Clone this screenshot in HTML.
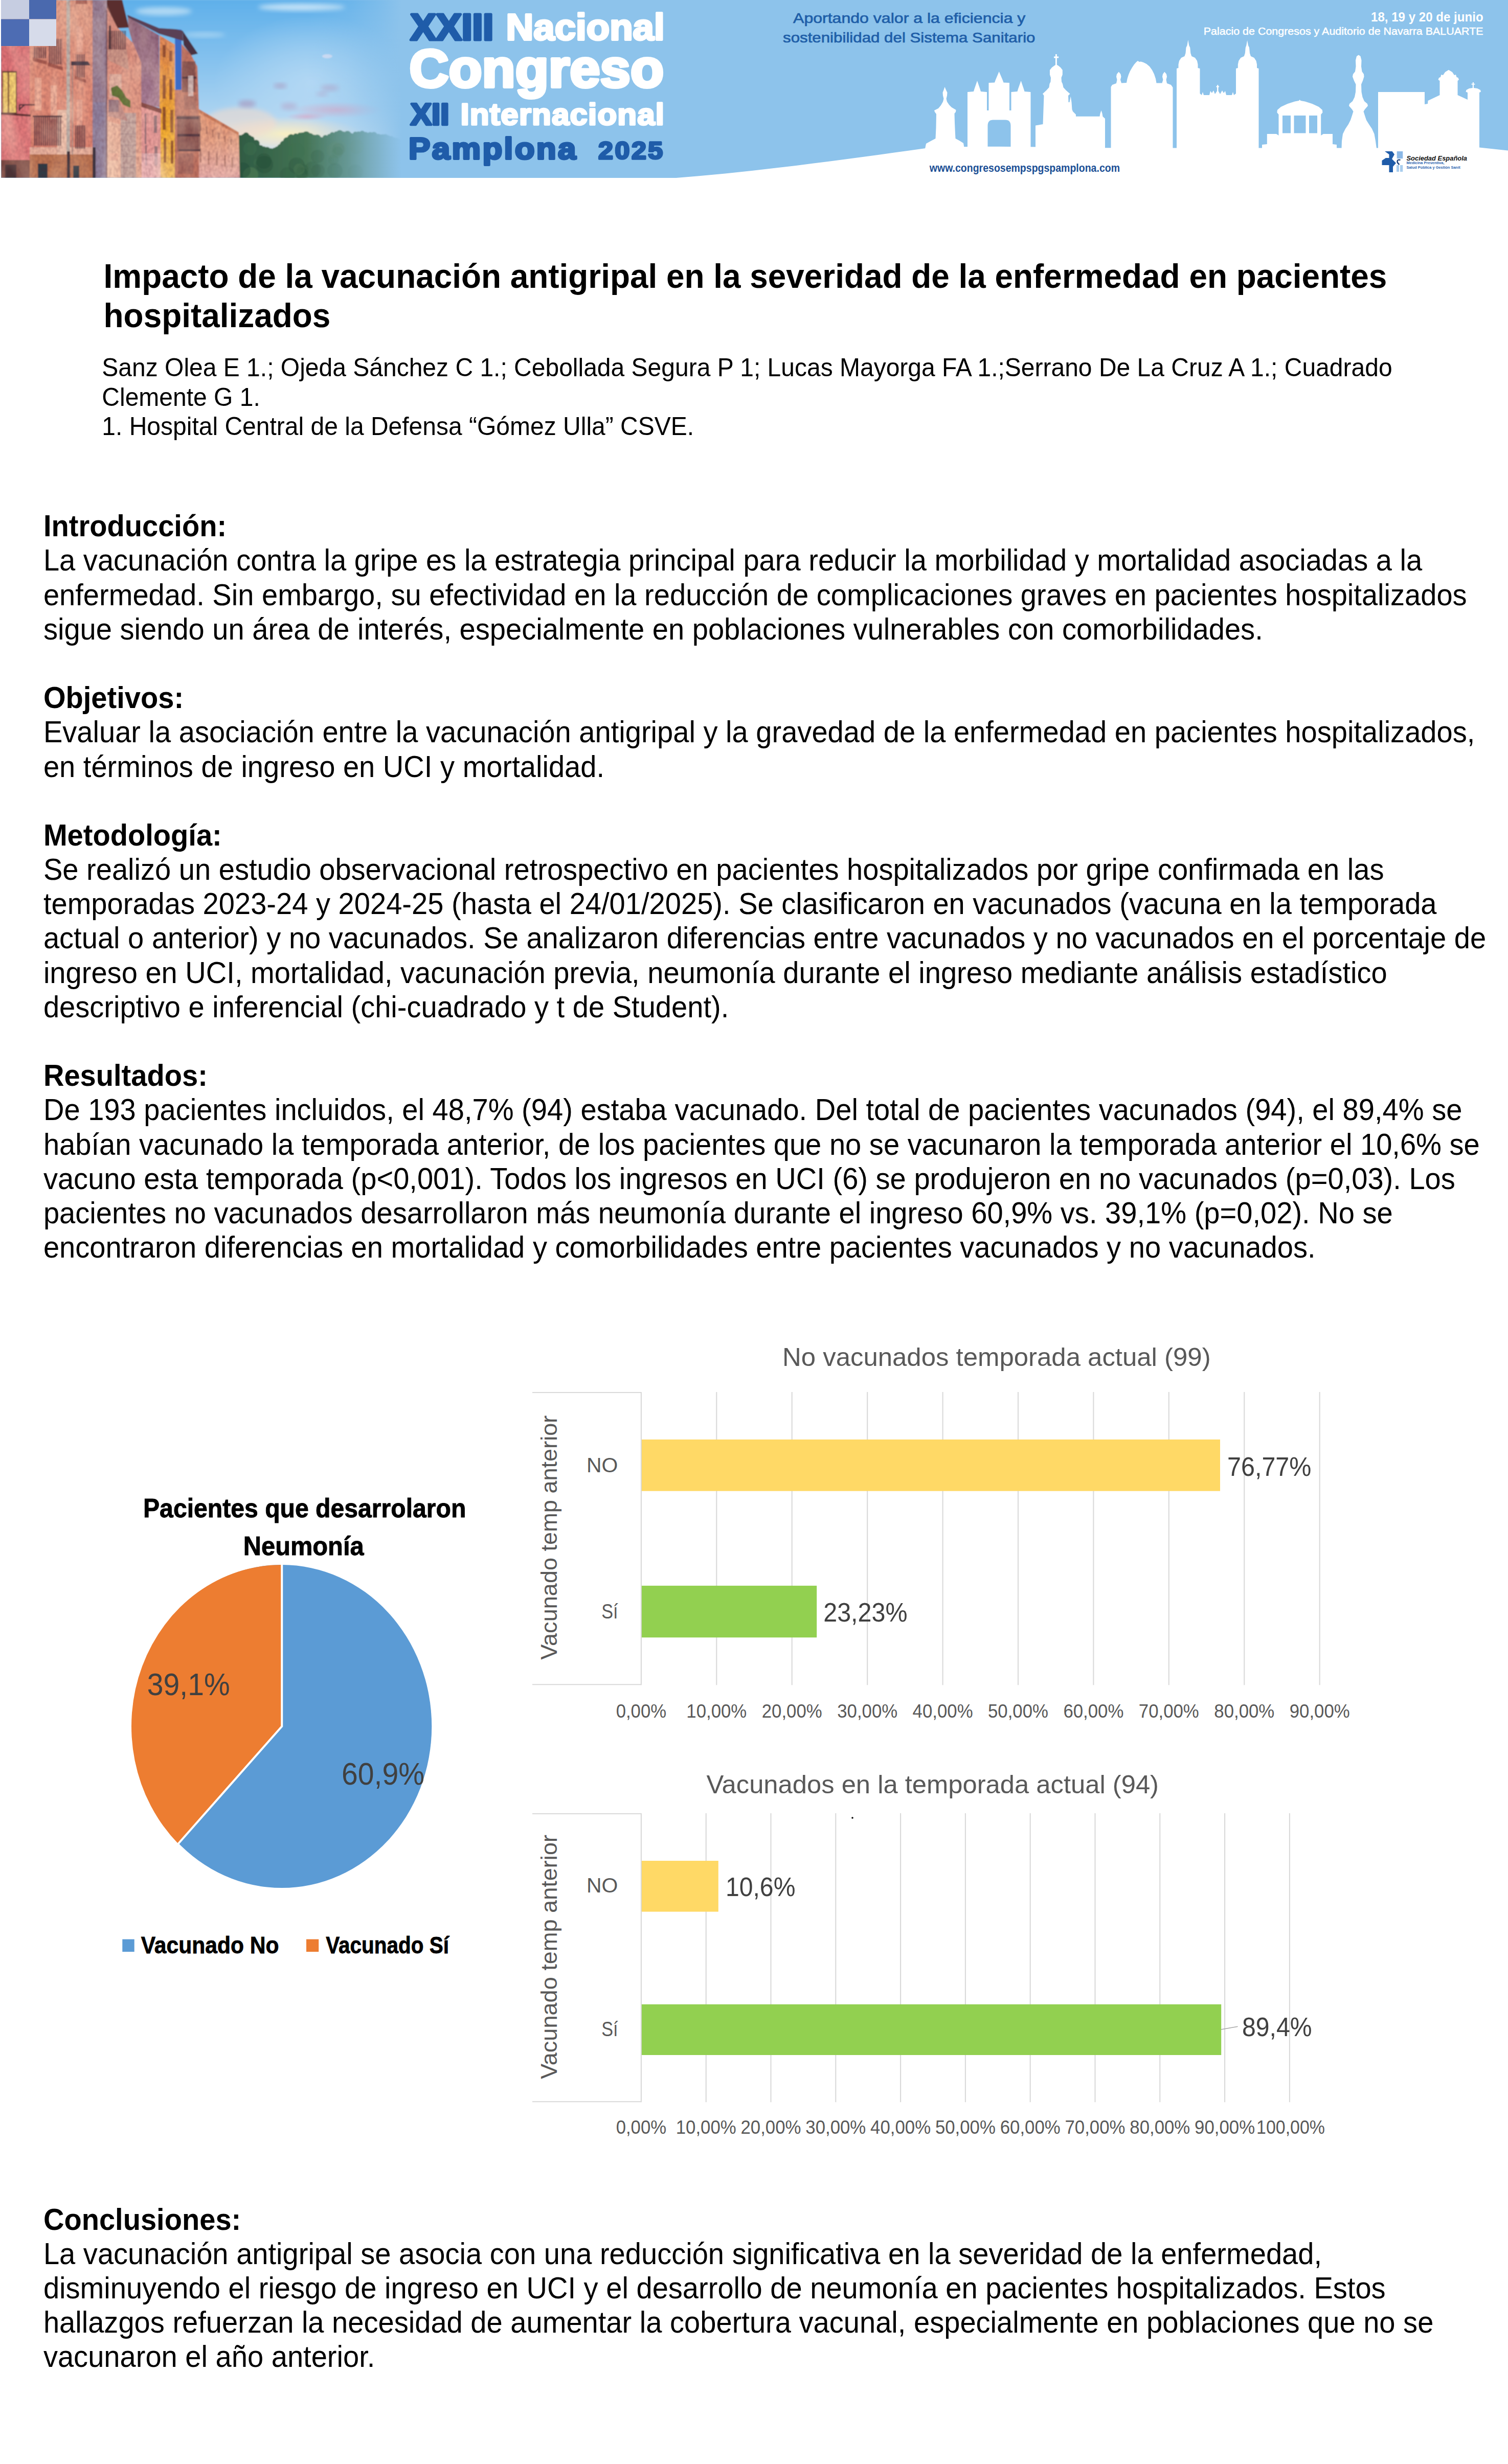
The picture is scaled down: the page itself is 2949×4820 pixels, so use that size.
<!DOCTYPE html>
<html lang="es">
<head>
<meta charset="utf-8">
<title>Impacto de la vacunación antigripal</title>
<style>
html,body{margin:0;padding:0;background:#fff;}
body{width:2949px;height:4820px;position:relative;overflow:hidden;font-family:"Liberation Sans",sans-serif;color:#000;}
.abs{position:absolute;white-space:nowrap;}
#banner{position:absolute;left:0;top:0;width:2949px;height:400px;}
#title{left:202.6px;top:503px;font-size:63.89px;line-height:76.8px;font-weight:bold;}
#authors{left:199.3px;top:691.3px;font-size:48px;line-height:57.6px;}
.body{left:84.9px;font-size:56.09px;line-height:67.2px;}
.body b{font-weight:bold;}
.lt{height:76.8px;transform:scaleY(1.055);transform-origin:0 60.5px;}
.la{height:57.6px;transform:scaleY(1.05);transform-origin:0 45.4px;}
.lb{height:67.2px;transform:scaleY(1.05);transform-origin:0 53px;}
#charts{position:absolute;left:0;top:2560px;width:2949px;height:1700px;}
svg text{font-family:"Liberation Sans",sans-serif;}
</style>
</head>
<body>
<!--BANNER-->
<svg id="banner" viewBox="0 0 2949 400">
<defs>
<linearGradient id="skyv" x1="0" y1="0" x2="0" y2="1">
<stop offset="0" stop-color="#5fb0ea"/><stop offset="0.35" stop-color="#86c2ee"/><stop offset="0.62" stop-color="#a9d2f1"/><stop offset="0.8" stop-color="#cfe3f2"/><stop offset="1" stop-color="#bcd9ee"/>
</linearGradient>
<linearGradient id="fade" gradientUnits="userSpaceOnUse" x1="600" y1="0" x2="800" y2="0">
<stop offset="0" stop-color="#8dc3eb" stop-opacity="0"/><stop offset="0.4" stop-color="#8dc3eb" stop-opacity="0.25"/><stop offset="0.7" stop-color="#8dc3eb" stop-opacity="0.62"/><stop offset="0.93" stop-color="#8dc3eb" stop-opacity="1"/><stop offset="1" stop-color="#8dc3eb" stop-opacity="1"/>
</linearGradient>
<radialGradient id="glow" cx="0.5" cy="0.5" r="0.5">
<stop offset="0" stop-color="#fbf0c0" stop-opacity="0.95"/><stop offset="0.6" stop-color="#f6e6c8" stop-opacity="0.5"/><stop offset="1" stop-color="#f6e6c8" stop-opacity="0"/>
</radialGradient>
<radialGradient id="pale" cx="0.5" cy="0.5" r="0.5"><stop offset="0" stop-color="#bfdef6" stop-opacity="0.7"/><stop offset="0.5" stop-color="#bfdef6" stop-opacity="0.4"/><stop offset="1" stop-color="#bfdef6" stop-opacity="0"/></radialGradient>
<radialGradient id="pinkc" cx="0.5" cy="0.5" r="0.5">
<stop offset="0" stop-color="#d9a8c6" stop-opacity="0.75"/><stop offset="1" stop-color="#d9a8c6" stop-opacity="0"/>
</radialGradient>
<linearGradient id="b1" x1="0" y1="0" x2="0" y2="1">
<stop offset="0" stop-color="#e39a82"/><stop offset="0.55" stop-color="#e48c76"/><stop offset="1" stop-color="#dd806d"/>
</linearGradient>
<linearGradient id="b3" x1="0" y1="0" x2="0" y2="1">
<stop offset="0" stop-color="#d98a7a"/><stop offset="0.6" stop-color="#e79c86"/><stop offset="1" stop-color="#f1b89e"/>
</linearGradient>
<linearGradient id="b4" x1="0" y1="0" x2="0" y2="1">
<stop offset="0" stop-color="#8c6279"/><stop offset="1" stop-color="#ab8199"/>
</linearGradient>
<linearGradient id="b5" x1="0" y1="0" x2="0" y2="1">
<stop offset="0" stop-color="#e28a5c"/><stop offset="0.3" stop-color="#f09a3a"/><stop offset="0.65" stop-color="#f8b02c"/><stop offset="1" stop-color="#f6c060"/>
</linearGradient>
<linearGradient id="b8" x1="0" y1="0" x2="0" y2="1">
<stop offset="0" stop-color="#e9966f"/><stop offset="0.5" stop-color="#eca789"/><stop offset="1" stop-color="#ebafab"/>
</linearGradient>
<linearGradient id="tree" gradientUnits="userSpaceOnUse" x1="462" y1="0" x2="800" y2="0">
<stop offset="0" stop-color="#2e5a42"/><stop offset="0.4" stop-color="#447455"/><stop offset="0.7" stop-color="#5e8e80"/><stop offset="1" stop-color="#7aa9b4"/>
</linearGradient>
<linearGradient id="treev" x1="0" y1="0" x2="0" y2="1">
<stop offset="0" stop-color="#fff" stop-opacity="0.12"/><stop offset="1" stop-color="#fff" stop-opacity="0.0"/>
</linearGradient>
<filter id="soft" x="-2%" y="-5%" width="104%" height="110%"><feGaussianBlur stdDeviation="1.1"/></filter>
<filter id="soft3" x="-10%" y="-30%" width="120%" height="160%"><feGaussianBlur stdDeviation="4"/></filter>
<pattern id="rail" width="4.2" height="10" patternUnits="userSpaceOnUse"><rect x="0" y="0" width="1.6" height="10" fill="#35242f"/></pattern>
<pattern id="rail2" width="3" height="10" patternUnits="userSpaceOnUse"><rect x="0" y="0" width="1.2" height="10" fill="#35242f"/></pattern>
<filter id="grain" x="0" y="0" width="100%" height="100%" color-interpolation-filters="sRGB"><feTurbulence type="fractalNoise" baseFrequency="0.22 0.14" numOctaves="2" seed="4" result="n"/><feColorMatrix in="n" type="matrix" values="0 0 0 0 0.32  0 0 0 0 0.14  0 0 0 0 0.2  0.4 0.4 0 0 -0.3"/></filter>
<filter id="grainL" x="0" y="0" width="100%" height="100%" color-interpolation-filters="sRGB"><feTurbulence type="fractalNoise" baseFrequency="0.03 0.012" numOctaves="2" seed="11" result="n"/><feColorMatrix in="n" type="matrix" values="0 0 0 0 1  0 0 0 0 0.9  0 0 0 0 0.8  0 0.5 0.5 0 -0.42"/></filter>
<clipPath id="bclip"><rect x="2" y="0" width="207" height="348"/><path d="M209 8 L230 54 L260 84 L276 122 L277 348 L209 348 Z"/><path d="M250 33 L311 69 L312 210 L276 203 L275 121 L259 83 L251 54 Z"/><path d="M276 203 L314 215 L314 348 L276 348 Z"/><path d="M312 69 L342 87 L342 348 L312 348 Z"/><path d="M342 175 L355 175 L355 86 L373 106 L386 130 L389 214 L389 348 L342 348 Z"/><path d="M383 210 L467 259 L469 348 L383 348 Z"/></clipPath>
<clipPath id="photoclip"><rect x="2" y="0" width="1400" height="348"/></clipPath>
</defs>
<rect x="2" y="0" width="2947" height="348" fill="#8dc3eb"/>
<!--PHOTO-->
<g clip-path="url(#photoclip)">
<g filter="url(#soft)">
<rect x="2" y="0" width="800" height="348" fill="url(#skyv)"/>
<!-- wispy clouds top -->
<ellipse cx="590" cy="14" rx="85" ry="7" fill="#d7ecfa" opacity="0.8" filter="url(#soft3)"/>
<ellipse cx="320" cy="22" rx="55" ry="8" fill="#cfe8f8" opacity="0.7" filter="url(#soft3)"/>
<ellipse cx="400" cy="68" rx="40" ry="5" fill="#cfe8f8" opacity="0.5" filter="url(#soft3)"/>
<ellipse cx="610" cy="160" rx="190" ry="130" fill="url(#pale)"/>
<!-- horizon glow & pink clouds -->
<ellipse cx="560" cy="262" rx="150" ry="34" fill="url(#glow)"/>
<ellipse cx="470" cy="240" rx="70" ry="30" fill="#f6dccb" opacity="0.55" filter="url(#soft3)"/>
<ellipse cx="660" cy="215" rx="90" ry="16" fill="url(#pinkc)"/>
<ellipse cx="600" cy="228" rx="40" ry="8" fill="url(#pinkc)"/>
<ellipse cx="548" cy="168" rx="13" ry="5" fill="#a98fb6" opacity="0.55" filter="url(#soft3)"/>
<ellipse cx="483" cy="203" rx="17" ry="7" fill="#a98fb6" opacity="0.6" filter="url(#soft3)"/>
<ellipse cx="645" cy="172" rx="18" ry="6" fill="#b59cc0" opacity="0.55" filter="url(#soft3)"/>
<ellipse cx="630" cy="184" rx="12" ry="4" fill="#b59cc0" opacity="0.5" filter="url(#soft3)"/>
<ellipse cx="565" cy="208" rx="16" ry="7" fill="#b7a0c4" opacity="0.5" filter="url(#soft3)"/>
<ellipse cx="640" cy="110" rx="10" ry="4" fill="#e6e3f4" opacity="0.7"/>
<!-- trees -->
<g fill="url(#tree)">
<path d="M462 274 L470 266 L482 263 L494 270 L505 281 L516 290 L528 294 L540 292 L550 284 L560 272 L572 265 L586 262 L600 261 L614 266 L628 270 L642 265 L656 260 L672 259 L688 262 L704 259 L720 261 L740 264 L760 268 L780 274 L800 280 L800 348 L462 348 Z"/>
<circle cx="462" cy="276.1" r="5.8"/><circle cx="469.6" cy="269.1" r="4.8"/><circle cx="476.1" cy="267.1" r="4.7"/><circle cx="481.2" cy="265.3" r="6.2"/><circle cx="486.6" cy="270.1" r="6.2"/><circle cx="492.1" cy="272.2" r="5.4"/><circle cx="500.9" cy="280.3" r="6.8"/><circle cx="509.8" cy="288.6" r="4.7"/><circle cx="515.9" cy="291.6" r="5.1"/><circle cx="522.2" cy="295.4" r="7.8"/><circle cx="529.5" cy="297.2" r="7.1"/><circle cx="536.7" cy="293.8" r="4.8"/><circle cx="542.5" cy="293.8" r="7.2"/><circle cx="548.8" cy="288.6" r="6.8"/><circle cx="555.0" cy="282.9" r="7.7"/><circle cx="560.9" cy="275.3" r="6.8"/><circle cx="569.4" cy="269.9" r="7.4"/><circle cx="578.4" cy="266.1" r="5.0"/><circle cx="586.4" cy="264.7" r="5.1"/><circle cx="591.5" cy="266.3" r="7.2"/><circle cx="598.8" cy="264.9" r="8.0"/><circle cx="606.6" cy="267.4" r="6.9"/><circle cx="613.4" cy="271.5" r="7.9"/><circle cx="620.3" cy="270.4" r="7.2"/><circle cx="628.1" cy="275.3" r="7.1"/><circle cx="636.4" cy="269.7" r="5.6"/><circle cx="644.1" cy="266.7" r="4.6"/><circle cx="649.8" cy="263.6" r="5.0"/><circle cx="657.9" cy="261.9" r="5.0"/><circle cx="664.4" cy="262.6" r="8.0"/><circle cx="671.2" cy="263.9" r="6.7"/><circle cx="679.5" cy="264.1" r="8.0"/><circle cx="686.1" cy="266.1" r="5.9"/><circle cx="695.0" cy="262.5" r="5.1"/><circle cx="700.9" cy="262.5" r="5.4"/><circle cx="708.3" cy="261.1" r="5.6"/><circle cx="714.9" cy="263.9" r="6.0"/><circle cx="723.8" cy="265.6" r="7.3"/><circle cx="731.2" cy="265.3" r="7.2"/><circle cx="739.8" cy="269.3" r="7.6"/><circle cx="748.0" cy="268.6" r="6.1"/><circle cx="753.4" cy="269.2" r="7.0"/><circle cx="758.7" cy="269.7" r="5.3"/><circle cx="765.1" cy="270.6" r="4.7"/><circle cx="770.7" cy="273.5" r="4.9"/><circle cx="775.8" cy="277.5" r="8.0"/><circle cx="781.4" cy="277.0" r="5.5"/><circle cx="787.8" cy="280.1" r="5.0"/><circle cx="796.8" cy="282.5" r="6.4"/><circle cx="802.1" cy="282.2" r="4.9"/>
</g>
<circle cx="661" cy="295" r="8" fill="#3f7050" opacity="0.16"/><circle cx="504" cy="318" r="8" fill="#3f7050" opacity="0.40"/><circle cx="695" cy="337" r="15" fill="#3f7050" opacity="0.11"/><circle cx="589" cy="339" r="12" fill="#2c5840" opacity="0.27"/><circle cx="592" cy="332" r="11" fill="#2c5840" opacity="0.27"/><circle cx="611" cy="332" r="16" fill="#2c5840" opacity="0.24"/><circle cx="655" cy="334" r="15" fill="#2c5840" opacity="0.17"/><circle cx="516" cy="315" r="15" fill="#244c38" opacity="0.38"/><circle cx="652" cy="313" r="10" fill="#3f7050" opacity="0.18"/><circle cx="573" cy="341" r="18" fill="#3f7050" opacity="0.30"/><circle cx="489" cy="291" r="13" fill="#3f7050" opacity="0.42"/><circle cx="517" cy="322" r="17" fill="#244c38" opacity="0.38"/><circle cx="580" cy="324" r="16" fill="#244c38" opacity="0.28"/><circle cx="662" cy="292" r="12" fill="#2c5840" opacity="0.16"/><circle cx="580" cy="296" r="16" fill="#3f7050" opacity="0.29"/><circle cx="490" cy="342" r="15" fill="#5d8a5c" opacity="0.42"/><circle cx="562" cy="342" r="15" fill="#2c5840" opacity="0.31"/><circle cx="698" cy="287" r="14" fill="#5d8a5c" opacity="0.11"/><circle cx="655" cy="294" r="16" fill="#5d8a5c" opacity="0.17"/><circle cx="621" cy="306" r="13" fill="#2c5840" opacity="0.22"/><circle cx="475" cy="333" r="15" fill="#244c38" opacity="0.44"/><circle cx="591" cy="341" r="12" fill="#2c5840" opacity="0.27"/><circle cx="660" cy="298" r="11" fill="#3f7050" opacity="0.16"/><circle cx="585" cy="331" r="11" fill="#5d8a5c" opacity="0.28"/><circle cx="662" cy="289" r="15" fill="#5d8a5c" opacity="0.16"/><circle cx="622" cy="334" r="13" fill="#2c5840" opacity="0.22"/>
<!-- B8 long low building -->
<path d="M383 210 L467 259 L469 348 L383 348 Z" fill="url(#b8)"/>
<path d="M383 210 L467 259 L467 265 L383 217 Z" fill="#cf7c58"/>
<path d="M392 240v16M404 247v15M416 254v14M428 260v13M440 266v12M452 272v11M392 290v28M408 296v26M424 300v24M440 304v22M454 308v20" stroke="#9a6458" stroke-width="3" opacity="0.65" fill="none"/>
<!-- B7 balcony building -->
<path d="M342 175 L355 175 L355 86 L373 106 L386 130 L389 214 L389 348 L342 348 Z" fill="#c27461"/>
<path d="M357 60 L387 105 L374 108 L359 88 Z" fill="#4a3342"/>
<path d="M356 120h26v60h-26zM346 226h46v70h-46z" fill="#503444" opacity="0.3"/><path d="M356 120h26v60h-26zM346 226h46v70h-46z" fill="url(#rail2)" opacity="0.55"/><path d="M345 228h44v5h-44zM347 262h44v5h-44zM356 150h28v4h-28zM350 292h42v4h-42z" fill="#3e2a36" opacity="0.8"/>
<path d="M360 186h24v28h-24zM348 300h30v40h-30z" fill="#6a4450" opacity="0.3"/>
<rect x="368" y="148" width="10" height="40" fill="#f4e6e0" opacity="0.7"/>
<!-- B6 blue strip -->
<path d="M342 57 L355 58 L355 176 L343 176 Z" fill="#3c6cc6"/>
<!-- B5 yellow -->
<path d="M312 69 L342 87 L342 348 L312 348 Z" fill="url(#b5)"/>
<path d="M318 88h6v24h-6zM331 99h6v21h-6zM318 147h6v46h-6zM331 155h6v40h-6zM318 209h6v45h-6zM333 215h6v44h-6zM320 270h5v48h-5zM334 275h5v45h-5z" fill="#7e3e2a" opacity="0.75"/>
<!-- B4 purple -->
<path d="M250 33 L311 69 L312 210 L276 203 L275 121 L259 83 L251 54 Z" fill="url(#b4)"/>
<path d="M249 29 L311 55 L343 57 L357 60 L358 80 L311 66 L250 34 Z" fill="#5a4054"/>
<!-- lower pink house -->
<path d="M276 203 L314 215 L314 348 L276 348 Z" fill="#eb9e9a"/>
<path d="M276 200 L316 213 L316 222 L276 209 Z" fill="#8a4e48"/>
<path d="M283 222h3v60h-3zM301 226h6v34h-6zM284 284h3v40h-3zM302 286h6v38h-6z" fill="#70606a" opacity="0.7"/>
<rect x="276" y="300" width="38" height="48" fill="#f6cfd0" opacity="0.6"/>
<!-- B3 pink -->
<path d="M209 8 L230 54 L260 84 L276 122 L277 348 L209 348 Z" fill="url(#b3)"/>
<path d="M207 0 L239 0 L252 54 L230 55 L209 14 Z" fill="#5a2e2e"/>
<path d="M236 221 L266 221 L266 348 L236 348 Z" fill="#c9aaa2"/>
<path d="M236 240h30M236 262h30M236 284h30M236 306h30M236 328h30" stroke="#a88c8c" stroke-width="1.5" opacity="0.7"/>
<path d="M211 60h36v38h-36z" fill="#4e3a48" opacity="0.25"/><path d="M211 60h36v38h-36z" fill="url(#rail)" opacity="0.7"/><path d="M213 50h4v46h-4z" fill="#2e2430" opacity="0.8"/>
<path d="M210 97 L248 97 L252 137 L212 118 Z" fill="#cf9888"/>
<path d="M214 145h24v46h-24z" fill="#e9c8b8" opacity="0.6"/>
<path d="M217 172 l12 -5 l10 10 l8 14 l8 6 l0 14 l-14 -6 l-10 -14 l-12 -4z" fill="#5d7432"/>
<path d="M212 195 L232 195 L250 237 L212 227 Z" fill="#c59088"/>
<path d="M212 195h20v24h-20z" fill="#8d7280" opacity="0.8"/>
<path d="M213 300h18v14h-18z" fill="#d05858" opacity="0.6"/>
<path d="M209 236 L236 244 L236 348 L209 348 Z" fill="#f6c6ac" opacity="0.7"/>
<!-- B2 grey strip -->
<rect x="181" y="0" width="28" height="348" fill="#998197"/>
<rect x="181" y="200" width="28" height="148" fill="#8f83a3" opacity="0.8"/>
<rect x="207" y="20" width="3" height="328" fill="#6a4a58" opacity="0.7"/>
<rect x="181" y="288" width="6" height="60" fill="#3a3440"/>
<!-- B1 -->
<rect x="2" y="0" width="179" height="348" fill="url(#b1)"/>
<rect x="2" y="90" width="56" height="222" fill="#e27377"/>
<rect x="2" y="225" width="58" height="88" fill="#e57b7c" />
<rect x="112" y="215" width="22" height="90" fill="#fbd9c2" opacity="0.75"/>
<rect x="58" y="288" width="123" height="14" fill="#f3c4ae" opacity="0.8"/>
<!-- stone base -->
<rect x="58" y="302" width="123" height="46" fill="#bf7652"/>
<rect x="2" y="313" width="56" height="35" fill="#7c4a42"/>
<path d="M74 320h19v28h-19zM143 324h12v24h-12z" fill="#2f3a44"/>
<path d="M10 322h22v26h-22z" fill="#4a3436"/>
<!-- window glow -->
<rect x="4" y="139" width="29" height="84" fill="#6e4838"/>
<rect x="6" y="142" width="25" height="78" fill="#f7d271"/>
<rect x="15" y="142" width="3" height="78" fill="#8c6040"/>
<path d="M2 222 L60 226" stroke="#5a3030" stroke-width="4"/>
<path d="M38 205 h34 M38 205 v12 M38 214 l10 -9" stroke="#4a3038" stroke-width="2.5" fill="none"/>
<!-- window openings -->
<path d="M68 152h13v64h-13zM99 167h12v66h-12z" fill="#f2ae96"/>
<path d="M150 52h12v50h-12zM150 195h11v52h-11z" fill="#efa690"/>
<!-- balconies -->
<path d="M65 92h26v22h-26zM94 76h28v50h-28z" fill="#5e4354" opacity="0.2"/><path d="M65 92h26v22h-26zM94 76h28v50h-28z" fill="url(#rail)" opacity="0.75"/>
<path d="M64 112 l28 8 v7 l-28 -8z M93 122 l30 9 v7 l-30 -9z" fill="#a85c50"/>
<path d="M66 229h54v56h-54z" fill="#563848" opacity="0.22"/><path d="M66 229h54v56h-54z" fill="url(#rail)" opacity="0.8"/><path d="M64 226h58v3h-58z" fill="#35242f" opacity="0.8"/>
<path d="M147 245h21v46h-21z" fill="#5a3c4a" opacity="0.25"/><path d="M147 245h21v46h-21z" fill="url(#rail)" opacity="0.8"/>
<path d="M148 106h18v46h-18z" fill="#6e4c5c" opacity="0.25"/><path d="M148 106h18v46h-18z" fill="url(#rail)" opacity="0.7"/>
<path d="M146 148 l22 8 v6 l-22 -8z" fill="#a85c50"/>
<!-- drain pipe & lamp -->
<rect x="130" y="0" width="7" height="302" fill="#bdb2aa"/>
<rect x="131" y="296" width="6" height="52" fill="#3a3038"/>
<path d="M139 120 L172 120 L177 128 L139 128 Z" fill="#3e3240"/>
<rect x="140" y="128" width="3" height="175" fill="#a89088" opacity="0.7"/>
<path d="M148 0h22v8h-22z" fill="#a85c50"/>
<g clip-path="url(#bclip)"><rect x="2" y="0" width="470" height="348" filter="url(#grain)"/><rect x="2" y="0" width="470" height="348" filter="url(#grainL)"/></g>
</g>
<!-- checker logo -->
<rect x="2" y="0" width="55" height="37.5" fill="#c6cde1"/>
<rect x="57" y="0" width="53" height="37.5" fill="#4a69ae"/>
<rect x="2" y="37.5" width="55" height="52.5" fill="#4d6cb3"/>
<rect x="57" y="37.5" width="53" height="52.5" fill="#d6dbea"/>
<!-- fade to banner colour -->
<rect x="600" y="0" width="210" height="348" fill="url(#fade)"/>
<rect x="808" y="0" width="30" height="348" fill="#8dc3eb"/>
</g>
<!--/PHOTO-->
<!--WAVE-->
<g fill="#fff">
<!-- white wave / ground -->
<path d="M1310 349 C1480 336 1650 312 1810 290 C1900 283 2050 289 2200 289.5 L2700 289.5 L2893 288.5 L2949 294.5 L2949 400 L1310 400 Z"/>
<rect x="0" y="348" width="2949" height="52"/>
<rect x="0" y="0" width="2" height="400"/>
<!-- monument 1 -->
<path d="M1847.5 170 L1850 176 L1852.5 181 L1852 187 L1850.5 193 L1852 199 L1856 205 L1861 210 L1869.5 215 L1869 219 L1866.5 222 L1867 240 L1868 262 L1868.5 271 L1876 275 L1884 280 L1886 291 L1809 291 L1811 281 L1820 276 L1829.5 271 L1830.5 250 L1831 223 L1828 219 L1827 216 L1835 212 L1840 206 L1844 199 L1845.5 193 L1844 187 L1843.5 181 L1845.5 176 Z"/>
<!-- gate -->
<path d="M1892 291 L1892 180 L1904 179 L1905.5 174 L1911 158 L1916.5 174 L1918 179 L1930 180 L1930 216 L1933.5 216 L1933.5 162 L1945 161.5 L1947 156 L1953.7 140 L1960.5 156 L1962.5 161.5 L1974 162 L1974 216 L1977.5 216 L1977.5 180 L1989.5 179 L1991 174 L1996.6 158 L2002 174 L2003.5 179 L2015.5 180 L2015.5 291 L1976.5 291 L1976.5 246 Q1976.5 234.5 1966 234.5 L1942 234.5 Q1931.5 234.5 1931.5 246 L1931.5 291 Z"/>
<!-- church with tower -->
<path d="M2025 291 L2025 245.5 L2039.5 243 L2041.5 187 L2039 183.5 L2046 177 L2051.5 171 L2052.5 164 L2054.5 160 L2055 152 L2053 146 L2053 137 L2057 132 L2062.5 128 L2064 127 L2064 113.5 L2061 113.5 L2061 110.5 L2064 110.5 L2064 106 L2066.8 106 L2066.8 110.5 L2070.2 110.5 L2070.2 113.5 L2066.8 113.5 L2066.8 127 L2069 128 L2074 132 L2077.8 137 L2077.8 146 L2075.5 152 L2076 160 L2078 164 L2079.5 171 L2085 177 L2092.5 183.5 L2089 187 L2089.5 200 L2091.5 200 L2093.8 188.5 L2095.5 200 L2096.5 214 L2098 218 L2104 224 L2104 227.8 L2150.5 227.8 L2151.5 222 L2153.6 216 L2155.5 222 L2156.5 228 L2161 232 L2161 291 Z"/>
<!-- town hall facade -->
<path d="M2172.5 291 L2172.5 170 L2175 166 L2183 163 L2184.5 156 L2183 150 L2184 145 L2187.8 140.5 L2191.5 145 L2192.5 150 L2191 156 L2193 162.5 L2203 162 L2204.5 154 L2207 146 L2210 139 L2214 132 L2218 126 L2222 121.5 L2225 119 L2228 121 L2231 120.5 L2236 122 L2242 125 L2248 130 L2253 137 L2257 145 L2260 154 L2261.5 162.5 L2272.5 162.5 L2274.5 156 L2273 150 L2274 145 L2277.3 140.5 L2281 145 L2282 150 L2280.5 156 L2282 163 L2290 166 L2293.5 171 L2293.5 291 Z"/>
<!-- cathedral twin towers -->
<path d="M2301 291 L2301 134 L2304.5 133 L2304.5 126 L2306 119 L2310 113 L2316.5 110 L2318.5 104 L2319.5 93 L2321.5 89 L2323.4 78 L2325.3 89 L2327.3 93 L2328.3 104 L2330.3 110 L2337 113 L2341 119 L2342.5 126 L2342.5 133 L2346.5 134 L2346.5 183 L2350 186 L2352 180 L2354 186 L2365 186 L2367 178 L2370 182 L2373 177 L2376 184 L2380 178 L2380 170.5 L2378.5 170.5 L2378.5 168.5 L2380 168.5 L2380.5 166 L2382.3 166 L2382.3 168.5 L2384 168.5 L2384 170.5 L2382.5 170.5 L2382.5 178 L2386 184 L2390 177 L2393 182 L2396 178 L2398 186 L2409 186 L2411 180 L2413 186 L2417 183 L2417 134 L2420.8 133 L2420.8 126 L2422.3 119 L2426.3 113 L2432.8 110 L2434.8 104 L2435.8 93 L2437.3 89 L2439.1 78.8 L2441 89 L2443 93 L2444 104 L2446 110 L2452.5 113 L2456.5 119 L2458 126 L2458 133 L2461.5 134 L2461.5 291 Z"/>
<!-- kiosk -->
<path d="M2468 291 L2468 283 L2477.8 282 L2477.8 262 L2496 262 L2500.5 265 L2500.5 224 L2497.3 220 L2498 215 L2505 209 L2518 203 L2532 198.5 L2540 197 L2541.7 195 L2543.5 197 L2552 198.5 L2566 203 L2579 209 L2585.8 215 L2586.5 220 L2583.2 224 L2583.2 265 L2588 262 L2606 262 L2606 282 L2614 283 L2614 291 Z"/>
<!-- monument 2 -->
<path d="M2623.5 291 L2624 276 L2626 262 L2631 252 L2637 243 L2641 235 L2644 226 L2646.5 218 L2644 214 L2638 207 L2639 203 L2645 198 L2649 190 L2651 180 L2651.5 165 L2648 158 L2645 150 L2646 145 L2650 140 L2651.5 130 L2651 118 L2653 110 L2656.8 107.5 L2660.5 110 L2662.5 118 L2662 130 L2663.5 140 L2667 145 L2667.5 150 L2665 158 L2662 165 L2662.5 180 L2664.5 190 L2668 198 L2674 203 L2675 207 L2669 214 L2666.5 218 L2669 226 L2672 235 L2677 243 L2683 252 L2687.5 262 L2690 276 L2692 291 Z"/>
<!-- baluarte box + church -->
<path d="M2695 291 L2695 180 L2786 180 L2786 204 L2792 203 L2792.5 197 L2813.5 187 L2815.5 186 L2815.5 158 L2812.5 156 L2814 152 L2817 151 L2818.5 146 L2822 147 L2826 141 L2832.9 136.8 L2840 141 L2844 147 L2847 146 L2848.5 151 L2851.5 152 L2853 156 L2850.5 158 L2850.5 186 L2870 195 L2870 181 L2866.5 179.5 L2867.5 176 L2873 173 L2879.8 172 L2879.8 165.5 L2877.5 165.5 L2877.5 163.8 L2879.8 163.8 L2879.8 161 L2882 161 L2882 163.8 L2884.3 163.8 L2884.3 165.5 L2882 165.5 L2882 172 L2889 173 L2895 176 L2896 179.5 L2893 181 L2893 291 Z"/>
</g>
<!-- holes (blue) -->
<g fill="#8dc3eb">
<rect x="2508" y="226" width="16" height="34.5"/><rect x="2530.5" y="226" width="23" height="34.5"/><rect x="2560" y="226" width="16" height="34.5"/>
</g>
<!--/WAVE-->
<!--BTEXT-->
<g font-weight="bold" stroke-linejoin="round" stroke-linecap="round" lengthAdjust="spacingAndGlyphs">
<text x="802.6" y="77.6" font-size="72" fill="#1f5ca9" stroke="#1f5ca9" stroke-width="5" textLength="162.6" lengthAdjust="spacingAndGlyphs">XXIII</text>
<text x="989.6" y="77.6" font-size="72" fill="#fff" stroke="#fff" stroke-width="4" textLength="310" lengthAdjust="spacingAndGlyphs">Nacional</text>
<text x="800.5" y="169.9" font-size="103" fill="#fff" stroke="#fff" stroke-width="6" textLength="497.5" lengthAdjust="spacingAndGlyphs">Congreso</text>
<text x="802.8" y="243.6" font-size="60" fill="#1f5ca9" stroke="#1f5ca9" stroke-width="4.5" textLength="75.5" lengthAdjust="spacingAndGlyphs">XII</text>
<text transform="translate(900.4 243.6) scale(1.03 1)" font-size="60" fill="#fff" stroke="#fff" stroke-width="3.5" textLength="386.9" lengthAdjust="spacing">Internacional</text>
<text transform="translate(799 311) scale(1.06 1)" font-size="60" fill="#1f5ca9" stroke="#1f5ca9" stroke-width="4" textLength="308.9" lengthAdjust="spacing">Pamplona</text>
<text transform="translate(1170 311) scale(1.06 1)" font-size="49" fill="#1f5ca9" stroke="#1f5ca9" stroke-width="3.6" textLength="119.1" lengthAdjust="spacing">2025</text>
</g>
<g fill="#1e5ea8" stroke="#1e5ea8" stroke-width="0.7">
<text x="1551" y="44.8" font-size="28.5" textLength="454.4" lengthAdjust="spacingAndGlyphs">Aportando valor a la eficiencia y</text>
<text x="1531" y="83" font-size="28.5" textLength="493.5" lengthAdjust="spacingAndGlyphs">sostenibilidad del Sistema Sanitario</text>
</g>
<g fill="#fff">
<text x="2681" y="42.3" font-size="25" font-weight="bold" textLength="219.6" lengthAdjust="spacingAndGlyphs">18, 19 y 20 de junio</text>
<text x="2353.8" y="67.7" font-size="20.5" textLength="546.8" lengthAdjust="spacingAndGlyphs" stroke="#fff" stroke-width="0.5">Palacio de Congresos y Auditorio de Navarra BALUARTE</text>
</g>
<text x="1817.8" y="335.6" font-size="21.5" font-weight="bold" fill="#1b4f95" textLength="372.2" lengthAdjust="spacingAndGlyphs">www.congresosempspgspamplona.com</text>
<!-- Sociedad logo -->
<g>
<path d="M2708 296 L2722.5 296 L2727 302 L2722 311 L2730 319 L2724 326 L2724 337 L2716.5 337 L2716.5 323 L2702.5 323 L2702.5 314 L2710 309 L2716.5 309 L2716.5 302 Z" fill="#1f5ca9"/>
<rect x="2731.7" y="296" width="11.6" height="14.2" fill="#8bb8e6"/>
<path d="M2731 323h5v13h-5zM2738 323h5.3v13h-5.3z" fill="#a9cdee"/>
<path d="M2738.5 313 q-6 -1.5 -6 3 q0 3 4 6" stroke="#1b3f78" stroke-width="2.4" fill="none"/>
<text x="2750.5" y="313.5" font-size="12.6" font-weight="bold" font-style="italic" fill="#111" textLength="118.5" lengthAdjust="spacingAndGlyphs">Sociedad Española</text>
<text x="2750.5" y="321.4" font-size="6.6" font-weight="bold" fill="#2e66b0" textLength="74" lengthAdjust="spacingAndGlyphs">Medicina Preventiva,</text>
<text x="2750.5" y="329.6" font-size="6.6" font-weight="bold" fill="#2e66b0" textLength="105.2" lengthAdjust="spacingAndGlyphs">Salud Pública y Gestión Sanit</text>
</g>
<!--/BTEXT-->
</svg>
<!--/BANNER-->

<div id="title" class="abs"><div class="lt">Impacto de la vacunación antigripal en la severidad de la enfermedad en pacientes</div><div class="lt">hospitalizados</div></div>
<div id="authors" class="abs"><div class="la">Sanz Olea E 1.; Ojeda Sánchez C 1.; Cebollada Segura P 1; Lucas Mayorga FA 1.;Serrano De La Cruz A 1.; Cuadrado</div><div class="la">Clemente G 1.</div><div class="la">1. Hospital Central de la Defensa “Gómez Ulla” CSVE.</div></div>

<div class="abs body" style="top:996.2px"><div class="lb"><b>Introducción:</b></div><div class="lb">La vacunación contra la gripe es la estrategia principal para reducir la morbilidad y mortalidad asociadas a la</div><div class="lb">enfermedad. Sin embargo, su efectividad en la reducción de complicaciones graves en pacientes hospitalizados</div><div class="lb">sigue siendo un área de interés, especialmente en poblaciones vulnerables con comorbilidades.</div><div class="lb">&nbsp;</div><div class="lb"><b>Objetivos:</b></div><div class="lb">Evaluar la asociación entre la vacunación antigripal y la gravedad de la enfermedad en pacientes hospitalizados,</div><div class="lb">en términos de ingreso en UCI y mortalidad.</div><div class="lb">&nbsp;</div><div class="lb"><b>Metodología:</b></div><div class="lb">Se realizó un estudio observacional retrospectivo en pacientes hospitalizados por gripe confirmada en las</div><div class="lb">temporadas 2023-24 y 2024-25 (hasta el 24/01/2025). Se clasificaron en vacunados (vacuna en la temporada</div><div class="lb">actual o anterior) y no vacunados. Se analizaron diferencias entre vacunados y no vacunados en el porcentaje de</div><div class="lb">ingreso en UCI, mortalidad, vacunación previa, neumonía durante el ingreso mediante análisis estadístico</div><div class="lb">descriptivo e inferencial (chi-cuadrado y t de Student).</div><div class="lb">&nbsp;</div><div class="lb"><b>Resultados:</b></div><div class="lb">De 193 pacientes incluidos, el 48,7% (94) estaba vacunado. Del total de pacientes vacunados (94), el 89,4% se</div><div class="lb">habían vacunado la temporada anterior, de los pacientes que no se vacunaron la temporada anterior el 10,6% se</div><div class="lb">vacuno esta temporada (p&lt;0,001). Todos los ingresos en UCI (6) se produjeron en no vacunados (p=0,03). Los</div><div class="lb">pacientes no vacunados desarrollaron más neumonía durante el ingreso 60,9% vs. 39,1% (p=0,02). No se</div><div class="lb">encontraron diferencias en mortalidad y comorbilidades entre pacientes vacunados y no vacunados.</div></div>

<!--CHARTS-->
<svg id="charts" viewBox="0 2560 2949 1700">
<!-- PIE -->
<g font-weight="bold" fill="#000" stroke="#000" stroke-width="0.9">
<text x="280" y="2968.2" font-size="52" textLength="631.4" lengthAdjust="spacingAndGlyphs">Pacientes que desarrolaron</text>
<text x="475.8" y="3041.6" font-size="52" textLength="235.8" lengthAdjust="spacingAndGlyphs">Neumonía</text>
</g>
<ellipse cx="551.25" cy="3377.1" rx="293" ry="316" fill="#5b9bd5"/>
<path d="M551.25 3377.1 L551.25 3061.1 A293 316 0 0 0 348.4 3606.4 Z" fill="#ed7d31"/>
<path d="M551.25 3060 L551.25 3377.1 L347.4 3608" fill="none" stroke="#fff" stroke-width="4" stroke-linejoin="miter"/>
<g fill="#404040" font-size="61">
<text x="287.8" y="3315.5" textLength="161.9" lengthAdjust="spacingAndGlyphs">39,1%</text>
<text x="668" y="3491.3" textLength="162" lengthAdjust="spacingAndGlyphs">60,9%</text>
</g>
<rect x="239.3" y="3793.5" width="23.4" height="24.5" fill="#5b9bd5"/>
<rect x="599" y="3793.5" width="24.2" height="24.5" fill="#ed7d31"/>
<g font-weight="bold" fill="#000" font-size="47" stroke="#000" stroke-width="0.8">
<text x="275.8" y="3820.9" textLength="269.8" lengthAdjust="spacingAndGlyphs">Vacunado No</text>
<text x="637.2" y="3820.9" textLength="240.8" lengthAdjust="spacingAndGlyphs">Vacunado Sí</text>
</g>

<!-- CHART 1 -->
<g stroke="#d9d9d9" stroke-width="2.1" fill="none">
<path d="M1041 2724H1253.9M1041 3295.2H1253.9"/>
<path d="M1253.9 2723V3296.2M1401.3 2723V3296.2M1548.7 2723V3296.2M1696.2 2723V3296.2M1843.6 2723V3296.2M1991.0 2723V3296.2M2138.4 2723V3296.2M2285.8 2723V3296.2M2433.3 2723V3296.2M2580.7 2723V3296.2"/>
</g>
<rect x="1254.9" y="2815.9" width="1131.1" height="100.8" fill="#ffd966"/>
<rect x="1254.9" y="3101.9" width="342.3" height="101.3" fill="#92d050"/>
<g fill="#595959">
<text x="1530" y="2671.6" font-size="50" textLength="837.6" lengthAdjust="spacingAndGlyphs">No vacunados temporada actual (99)</text>
<text transform="translate(1089 3246.7) rotate(-90)" font-size="44" textLength="478" lengthAdjust="spacingAndGlyphs">Vacunado temp anterior</text>
<text x="1147" y="2880" font-size="41" textLength="61.4" lengthAdjust="spacingAndGlyphs">NO</text>
<text x="1176.2" y="3166" font-size="41" textLength="32.4" lengthAdjust="spacingAndGlyphs">Sí</text>
<g font-size="36" text-anchor="middle">
<text x="1253.9" y="3359.7" textLength="98.5" lengthAdjust="spacingAndGlyphs">0,00%</text>
<text x="1401.3" y="3359.7" textLength="118" lengthAdjust="spacingAndGlyphs">10,00%</text>
<text x="1548.7" y="3359.7" textLength="118" lengthAdjust="spacingAndGlyphs">20,00%</text>
<text x="1696.2" y="3359.7" textLength="118" lengthAdjust="spacingAndGlyphs">30,00%</text>
<text x="1843.6" y="3359.7" textLength="118" lengthAdjust="spacingAndGlyphs">40,00%</text>
<text x="1991.0" y="3359.7" textLength="118" lengthAdjust="spacingAndGlyphs">50,00%</text>
<text x="2138.4" y="3359.7" textLength="118" lengthAdjust="spacingAndGlyphs">60,00%</text>
<text x="2285.8" y="3359.7" textLength="118" lengthAdjust="spacingAndGlyphs">70,00%</text>
<text x="2433.3" y="3359.7" textLength="118" lengthAdjust="spacingAndGlyphs">80,00%</text>
<text x="2580.7" y="3359.7" textLength="118" lengthAdjust="spacingAndGlyphs">90,00%</text>
</g>
</g>
<g fill="#404040" font-size="51">
<text x="2400" y="2886.5" textLength="164.4" lengthAdjust="spacingAndGlyphs">76,77%</text>
<text x="1610.2" y="3172.4" textLength="164.4" lengthAdjust="spacingAndGlyphs">23,23%</text>
</g>

<!-- CHART 2 -->
<g stroke="#d9d9d9" stroke-width="2.1" fill="none">
<path d="M1041 3548H1253.9M1041 4111.2H1253.9"/>
<path d="M1253.9 3547V4112.2M1380.7 3547V4112.2M1507.5 3547V4112.2M1634.3 3547V4112.2M1761.1 3547V4112.2M1887.9 3547V4112.2M2014.7 3547V4112.2M2141.5 3547V4112.2M2268.3 3547V4112.2M2395.1 3547V4112.2M2521.9 3547V4112.2"/>
</g>
<rect x="1254.9" y="3640" width="149.9" height="99.6" fill="#ffd966"/>
<rect x="1254.9" y="3920.8" width="1133.3" height="99.2" fill="#92d050"/>
<path d="M2388 3970L2420.5 3964.3" stroke="#a6a6a6" stroke-width="1.6" fill="none"/>
<circle cx="1667" cy="3556" r="1.8" fill="#000"/>
<g fill="#595959">
<text x="1381.5" y="3507.5" font-size="50" textLength="884.5" lengthAdjust="spacingAndGlyphs">Vacunados en la temporada actual (94)</text>
<text transform="translate(1089 4067) rotate(-90)" font-size="44" textLength="478" lengthAdjust="spacingAndGlyphs">Vacunado temp anterior</text>
<text x="1147" y="3702" font-size="41" textLength="61.4" lengthAdjust="spacingAndGlyphs">NO</text>
<text x="1176.2" y="3983.4" font-size="41" textLength="32.4" lengthAdjust="spacingAndGlyphs">Sí</text>
<g font-size="36" text-anchor="middle">
<text x="1253.9" y="4174.4" textLength="98.5" lengthAdjust="spacingAndGlyphs">0,00%</text>
<text x="1380.7" y="4174.4" textLength="118" lengthAdjust="spacingAndGlyphs">10,00%</text>
<text x="1507.5" y="4174.4" textLength="118" lengthAdjust="spacingAndGlyphs">20,00%</text>
<text x="1634.3" y="4174.4" textLength="118" lengthAdjust="spacingAndGlyphs">30,00%</text>
<text x="1761.1" y="4174.4" textLength="118" lengthAdjust="spacingAndGlyphs">40,00%</text>
<text x="1887.9" y="4174.4" textLength="118" lengthAdjust="spacingAndGlyphs">50,00%</text>
<text x="2014.7" y="4174.4" textLength="118" lengthAdjust="spacingAndGlyphs">60,00%</text>
<text x="2141.5" y="4174.4" textLength="118" lengthAdjust="spacingAndGlyphs">70,00%</text>
<text x="2268.3" y="4174.4" textLength="118" lengthAdjust="spacingAndGlyphs">80,00%</text>
<text x="2395.1" y="4174.4" textLength="118" lengthAdjust="spacingAndGlyphs">90,00%</text>
<text x="2524" y="4174.4" textLength="134" lengthAdjust="spacingAndGlyphs">100,00%</text>
</g>
</g>
<g fill="#404040" font-size="51">
<text x="1419" y="3709" textLength="136.4" lengthAdjust="spacingAndGlyphs">10,6%</text>
<text x="2429" y="3983.4" textLength="136.6" lengthAdjust="spacingAndGlyphs">89,4%</text>
</g>
</svg>
<!--/CHARTS-->

<div class="abs body" style="top:4308.6px"><div class="lb"><b>Conclusiones:</b></div><div class="lb">La vacunación antigripal se asocia con una reducción significativa en la severidad de la enfermedad,</div><div class="lb">disminuyendo el riesgo de ingreso en UCI y el desarrollo de neumonía en pacientes hospitalizados. Estos</div><div class="lb">hallazgos refuerzan la necesidad de aumentar la cobertura vacunal, especialmente en poblaciones que no se</div><div class="lb">vacunaron el año anterior.</div></div>

</body>
</html>
